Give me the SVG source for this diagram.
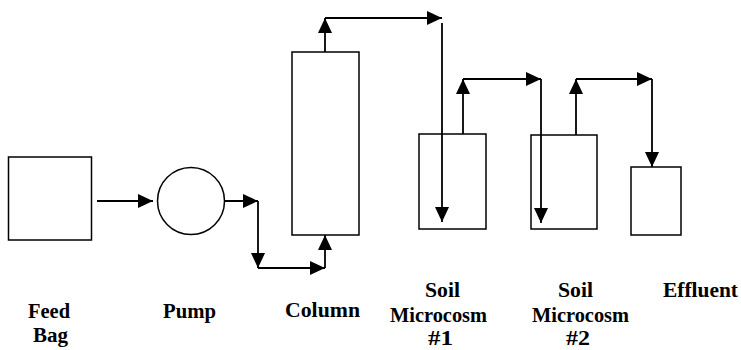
<svg xmlns="http://www.w3.org/2000/svg" width="741" height="350" viewBox="0 0 741 350">
  <style>
    .box { fill: #ffffff; stroke: #000000; stroke-width: 1.5; }
    .flow { fill: none; stroke: #000000; stroke-width: 1.8; marker-end: url(#arrow); }
    .lbl { font-family: "Liberation Serif", "Times New Roman", serif; font-weight: bold; font-size: 21px; fill: #000000; }
  </style>
  <defs>
    <marker id="arrow" markerUnits="userSpaceOnUse" markerWidth="15" markerHeight="14" refX="15" refY="7" orient="auto">
      <path d="M0,0 L15,7 L0,14 Z" fill="#000000"/>
    </marker>
  </defs>
  <rect width="741" height="350" fill="#ffffff"/>

  <!-- process units -->
  <g id="feed-bag">
    <rect class="box" x="8.5" y="157" width="83" height="83"/>
    <text class="lbl" x="28" y="317.5" textLength="42" lengthAdjust="spacingAndGlyphs">Feed</text>
    <text class="lbl" x="33" y="342" textLength="35" lengthAdjust="spacingAndGlyphs">Bag</text>
  </g>
  <g id="pump">
    <circle class="box" cx="191" cy="201" r="33.5"/>
    <text class="lbl" x="163" y="317.5" textLength="53" lengthAdjust="spacingAndGlyphs">Pump</text>
  </g>
  <g id="column">
    <rect class="box" x="292" y="52" width="67" height="183"/>
    <text class="lbl" x="285" y="317" textLength="75" lengthAdjust="spacingAndGlyphs">Column</text>
  </g>
  <g id="microcosm-1">
    <rect class="box" x="419" y="134" width="67" height="95"/>
    <text class="lbl" x="425" y="297" textLength="35" lengthAdjust="spacingAndGlyphs">Soil</text>
    <text class="lbl" x="390" y="321.5" textLength="97" lengthAdjust="spacingAndGlyphs">Microcosm</text>
    <text class="lbl" x="428" y="345" textLength="25" lengthAdjust="spacingAndGlyphs">#1</text>
  </g>
  <g id="microcosm-2">
    <rect class="box" x="531" y="135" width="66" height="94"/>
    <text class="lbl" x="558" y="297" textLength="35" lengthAdjust="spacingAndGlyphs">Soil</text>
    <text class="lbl" x="532" y="321.5" textLength="97" lengthAdjust="spacingAndGlyphs">Microcosm</text>
    <text class="lbl" x="566" y="345" textLength="24" lengthAdjust="spacingAndGlyphs">#2</text>
  </g>
  <g id="effluent">
    <rect class="box" x="631" y="167" width="50" height="68"/>
    <text class="lbl" x="663" y="297" textLength="75" lengthAdjust="spacingAndGlyphs">Effluent</text>
  </g>

  <!-- flow lines -->
  <g id="connectors">
    <line class="flow" x1="97" y1="201" x2="153" y2="201"/>
    <line class="flow" x1="225" y1="201" x2="258" y2="201"/>
    <line class="flow" x1="258" y1="201" x2="258" y2="268"/>
    <line class="flow" x1="258" y1="268" x2="325" y2="268"/>
    <line class="flow" x1="325" y1="268" x2="325" y2="235"/>
    <line class="flow" x1="325" y1="52" x2="325" y2="18"/>
    <line class="flow" x1="325" y1="18" x2="442" y2="18"/>
    <line class="flow" x1="442" y1="23" x2="442" y2="222"/>
    <line class="flow" x1="463" y1="134" x2="463" y2="79"/>
    <line class="flow" x1="463" y1="79" x2="541" y2="79"/>
    <line class="flow" x1="541" y1="79" x2="541" y2="223"/>
    <line class="flow" x1="576" y1="135" x2="576" y2="79"/>
    <line class="flow" x1="576" y1="79" x2="652" y2="79"/>
    <line class="flow" x1="652" y1="79" x2="652" y2="167"/>
  </g>
</svg>
